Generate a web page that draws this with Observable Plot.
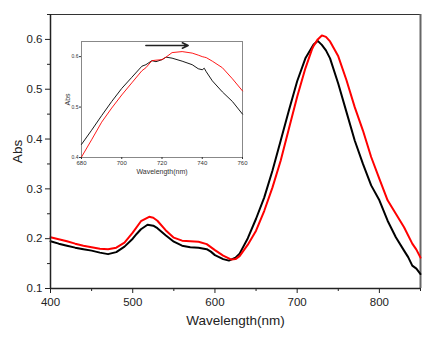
<!DOCTYPE html>
<html><head><meta charset="utf-8">
<script src="https://cdn.jsdelivr.net/npm/d3@7"></script>
<script src="https://cdn.jsdelivr.net/npm/@observablehq/plot@0.6"></script>
<style>
body{margin:0;background:#fff;}
#wrap{position:relative;width:444px;height:337px;}
#inset{position:absolute;left:61px;top:35px;}
svg{font-family:"Liberation Sans",Arial,sans-serif;}
</style></head>
<body><div id="wrap"><div id="main"></div><div id="inset"></div></div>
<script>
// Main chart data
const wlBlack = [400,410,420,430,440,450,460,470,480,490,500,505,510,518,525,530,540,550,560,570,580,590,595,600,610,617,625,630,640,650,660,670,680,690,700,710,720,725,730,735,740,750,760,770,780,790,800,810,820,830,835,840,845,850];
const absBlack = [0.195,0.190,0.186,0.182,0.179,0.176,0.172,0.169,0.173,0.184,0.200,0.210,0.219,0.228,0.226,0.221,0.207,0.194,0.186,0.183,0.182,0.179,0.174,0.167,0.159,0.156,0.162,0.170,0.201,0.240,0.283,0.337,0.397,0.458,0.516,0.562,0.590,0.597,0.589,0.578,0.562,0.511,0.454,0.397,0.350,0.307,0.277,0.236,0.203,0.176,0.163,0.146,0.140,0.129];
const wlRed = [400,410,420,430,440,450,460,470,480,490,500,510,520,525,530,540,550,560,570,580,590,600,610,620,625,630,640,650,660,670,680,690,700,710,718,720,725,730,735,740,750,760,770,780,790,800,810,820,830,840,845,850];
const absRed = [0.203,0.199,0.195,0.190,0.186,0.183,0.180,0.179,0.182,0.192,0.212,0.235,0.244,0.242,0.236,0.217,0.202,0.196,0.195,0.194,0.189,0.177,0.166,0.158,0.159,0.165,0.188,0.216,0.256,0.303,0.357,0.421,0.485,0.542,0.580,0.587,0.600,0.608,0.605,0.596,0.566,0.518,0.464,0.417,0.364,0.320,0.277,0.250,0.223,0.190,0.178,0.162];
const xTicks = [400,500,600,700,800];
const xMinor = [450,550,650,750,850];
const yTicks = [0.1,0.2,0.3,0.4,0.5,0.6];
const yMinor = [0.15,0.25,0.35,0.45,0.55,0.65];

// Inset data
const wlInset = [680,685,690,695,700,705,710,712,715,717,720,722,725,730,735,738,740,741,742,745,750,755,760];
const absInsetBlack = [0.426,0.454,0.483,0.511,0.537,0.559,0.581,0.584,0.592,0.590,0.594,0.599,0.597,0.591,0.584,0.576,0.574,0.577,0.570,0.552,0.530,0.511,0.486];
const absInsetRed = [0.401,0.435,0.470,0.498,0.524,0.548,0.572,0.578,0.592,0.593,0.594,0.599,0.608,0.610,0.607,0.603,0.600,0.599,0.598,0.591,0.578,0.556,0.532];
const insetXTicks = [680,700,720,740,760];
const insetYTicks = [0.4,0.5,0.6];
const arrowFrom = [712, 0.622];
const arrowTo = [733, 0.622];

const black = wlBlack.map((w,i)=>({w, a:absBlack[i]}));
const red = wlRed.map((w,i)=>({w, a:absRed[i]}));

const main = Plot.plot({
  width:444, height:337,
  marginLeft:50, marginRight:24, marginTop:14, marginBottom:49,
  style:{fontFamily:"Liberation Sans, Arial, sans-serif", fontSize:"11.5px", color:"#222"},
  x:{domain:[400,850]},
  y:{domain:[0.1,0.65]},
  marks:[
    Plot.ruleY([0.65],{stroke:"#333",strokeWidth:1}),
    Plot.ruleX([850],{stroke:"#666",strokeWidth:2}),
    Plot.line(black,{x:"w",y:"a",stroke:"black",strokeWidth:2}),
    Plot.line(red,{x:"w",y:"a",stroke:"#ff0000",strokeWidth:2}),
    Plot.axisX({ticks:xTicks, tickSize:5, tickPadding:4, fontSize:11.5, label:"Wavelength(nm)", labelAnchor:"center", labelArrow:false, labelOffset:36}),
    Plot.axisX({ticks:xMinor, tickSize:3, text:null, label:null}),
    Plot.axisY({ticks:yTicks, tickSize:5, tickPadding:3, fontSize:11.5, tickFormat:d3.format(".1f"), label:"Abs", labelAnchor:"center", labelArrow:false, labelOffset:38}),
    Plot.axisY({ticks:yMinor, tickSize:3, text:null, label:null}),
    Plot.ruleX([400],{stroke:"#222",strokeWidth:1.5}),
    Plot.ruleY([0.1],{stroke:"#222",strokeWidth:1.5})
  ]
});
main.querySelectorAll('[aria-label$="axis label"] text').forEach(t=>t.setAttribute("font-size","13.5"));
document.getElementById("main").appendChild(main);

const ib = wlInset.map((w,i)=>({w, a:absInsetBlack[i]}));
const ir = wlInset.map((w,i)=>({w, a:absInsetRed[i]}));
const inset = Plot.plot({
  width:191, height:150,
  marginLeft:20, marginRight:10, marginTop:6, marginBottom:28,
  style:{fontFamily:"Liberation Sans, Arial, sans-serif", fontSize:"6px", color:"#333", background:"white"},
  x:{domain:[680,760]},
  y:{domain:[0.4,0.63]},
  marks:[
    Plot.frame({stroke:"#888",strokeWidth:1}),
    Plot.line(ib,{x:"w",y:"a",stroke:"black",strokeWidth:0.9}),
    Plot.line(ir,{x:"w",y:"a",stroke:"#ff0000",strokeWidth:0.9}),
    Plot.arrow([{x1:arrowFrom[0],y1:arrowFrom[1],x2:arrowTo[0],y2:arrowTo[1]}],{x1:"x1",y1:"y1",x2:"x2",y2:"y2",stroke:"#222",strokeWidth:1.6,headLength:6,headAngle:50}),
    Plot.axisX({ticks:insetXTicks, tickSize:2, tickPadding:1, fontSize:6, label:"Wavelength(nm)", labelAnchor:"center", labelArrow:false, labelOffset:16}),
    Plot.axisY({ticks:insetYTicks, tickSize:2, tickPadding:1, fontSize:5, tickFormat:d3.format(".1f"), label:"Abs", labelAnchor:"center", labelArrow:false, labelOffset:16})
  ]
});
inset.querySelectorAll('[aria-label$="axis label"] text').forEach(t=>t.setAttribute("font-size","7"));
document.getElementById("inset").appendChild(inset);
</script></body></html>
